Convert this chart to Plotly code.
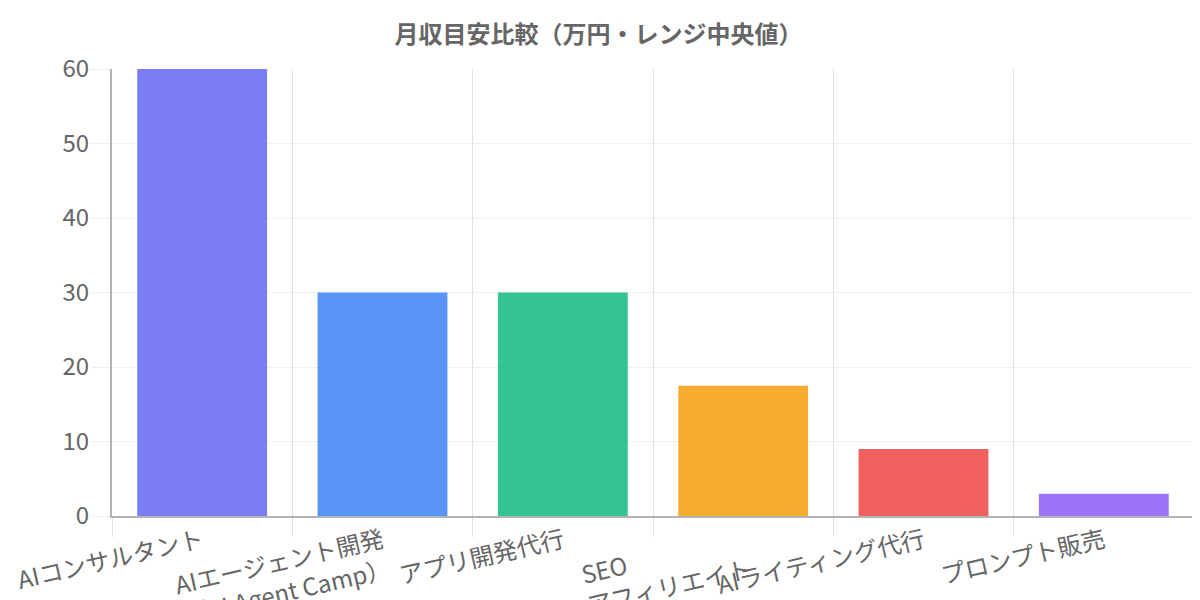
import plotly.graph_objects as go

# categories and monthly income estimates (median of range, 万円)
labels = ["AIコンサルタント", "AIエージェント開発<br>（AI Agent Camp）", "アプリ開発代行",
          "SEO\u3000\u3000\u3000\u3000\u3000<br>アフィリエイト", "AIライティング代行", "プロンプト販売"]
values = [60, 30, 30, 17.5, 9, 3]
colors = ["rgba(99,102,241,0.85)", "rgba(59,130,246,0.85)", "rgba(16,185,129,0.85)",
          "rgba(245,158,11,0.85)", "rgba(239,68,68,0.85)", "rgba(139,92,246,0.85)"]
y_ticks = [0, 10, 20, 30, 40, 50, 60]

font = "Noto Sans CJK JP, Liberation Sans, sans-serif"

fig = go.Figure(go.Bar(x=labels, y=values, marker=dict(color=colors, line=dict(width=0))))

# page body has an 8px margin, so margins are shifted to line up with the window
fig.update_layout(
    width=1200, height=600,
    paper_bgcolor="white", plot_bgcolor="white",
    margin=dict(l=104, r=14, t=61, b=92),
    bargap=0.28,
    showlegend=False,
    font=dict(family=font, color="#666666"),
    title=dict(text="<b>月収目安比較（万円・レンジ中央値）</b>", x=0.492, xanchor="center",
               y=0.955, yanchor="middle", font=dict(size=24, color="#666666", family=font)),
)

fig.update_xaxes(
    type="category", tickson="boundaries", tickangle=-13,
    showgrid=True, gridcolor="#e0e0e0", gridwidth=1,
    ticks="outside", ticklen=19, tickcolor="#e0e0e0",
    showline=True, linecolor="#b3b3b3", linewidth=2,
    tickfont=dict(size=24, color="#666666"),
    automargin=False,
)
fig.update_yaxes(
    range=[0, 60], tickvals=y_ticks,
    showgrid=True, gridcolor="#f0f0f0", gridwidth=1,
    ticks="outside", ticklen=19, tickcolor="#eeeeee",
    ticklabelstandoff=-3,
    showline=True, linecolor="#b3b3b3", linewidth=2,
    zeroline=False,
    tickfont=dict(size=24, color="#666666"),
    automargin=False,
)

fig.write_html("out.html")
